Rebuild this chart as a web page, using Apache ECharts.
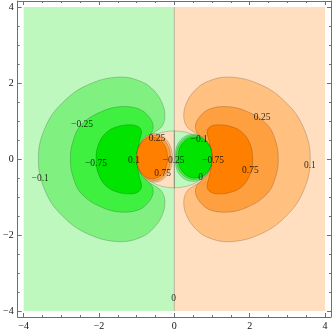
<!DOCTYPE html>
<html>
<head>
<meta charset="utf-8">
<script src="https://cdn.jsdelivr.net/npm/echarts@6/dist/echarts.min.js"></script>
<style>
html, body { margin: 0; padding: 0; background: #fff; }
#main { width: 332px; height: 332px; }
</style>
</head>
<body>
<div id="main"></div>
<script>
// contour plot, values (data units)

var majorTicks = [-4, -2, 0, 2, 4];
var minorTicks = [-3.5, -3, -2.5, -1.5, -1, -0.5, 0.5, 1, 1.5, 2.5, 3, 3.5];

// levels: <-0.75, -0.75..-0.25, -0.25..-0.1, -0.1..0, 0..0.1, 0.1..0.25, 0.25..0.75, >0.75
var levels = [-0.75, -0.25, -0.1, 0, 0.1, 0.25, 0.75];

// background halves (|f| < 0.1)
var leftHalf = [[-4, -4], [0, -4], [0, 4], [-4, 4]];
var rightHalf = [[0, -4], [4, -4], [4, 4], [0, 4]];

// left crescents (negative)
var negOuter01 = [[-1, 0], [-0.9, 0.38], [-0.72, 0.58], [-0.5, 0.72], [-0.33, 0.86], [-0.25, 1.12], [-0.31, 1.44],
  [-0.53, 1.79], [-0.88, 2.04], [-1.45, 2.16], [-2.28, 1.96], [-2.95, 1.5], [-3.42, 0.85], [-3.61, 0],
  [-3.42, -0.86], [-2.95, -1.52], [-2.28, -1.98], [-1.45, -2.18], [-0.88, -2.06], [-0.53, -1.8],
  [-0.31, -1.45], [-0.25, -1.12], [-0.33, -0.86], [-0.5, -0.72], [-0.72, -0.58], [-0.9, -0.38]];
var negOuter025 = [[-1, 0], [-0.9, 0.35], [-0.75, 0.55], [-0.6, 0.7], [-0.56, 0.88], [-0.68, 1.12], [-0.95, 1.32],
  [-1.4, 1.38], [-1.93, 1.25], [-2.45, 0.92], [-2.68, 0.5], [-2.76, 0], [-2.68, -0.5], [-2.45, -0.93],
  [-1.93, -1.27], [-1.4, -1.4], [-0.95, -1.34], [-0.68, -1.13], [-0.56, -0.88], [-0.6, -0.7],
  [-0.75, -0.55], [-0.9, -0.35]];
var negOuter075 = [[-1, 0], [-0.93, 0.45], [-0.87, 0.72], [-0.95, 0.85], [-1.15, 0.9], [-1.45, 0.87], [-1.78, 0.72],
  [-2.0, 0.42], [-2.08, 0], [-2.0, -0.43], [-1.78, -0.74], [-1.45, -0.89], [-1.15, -0.92], [-0.95, -0.86],
  [-0.87, -0.72], [-0.93, -0.45]];

// right crescents (positive)
var posOuter01 = [[1, 0], [0.9, 0.38], [0.72, 0.58], [0.5, 0.72], [0.33, 0.86], [0.25, 1.12], [0.31, 1.44],
  [0.53, 1.79], [0.88, 2.04], [1.45, 2.16], [2.28, 1.96], [2.95, 1.5], [3.42, 0.85], [3.61, 0],
  [3.42, -0.86], [2.95, -1.52], [2.28, -1.98], [1.45, -2.18], [0.88, -2.06], [0.53, -1.8],
  [0.31, -1.45], [0.25, -1.12], [0.33, -0.86], [0.5, -0.72], [0.72, -0.58], [0.9, -0.38]];
var posOuter025 = [[1, 0], [0.9, 0.35], [0.75, 0.55], [0.6, 0.7], [0.56, 0.88], [0.68, 1.12], [0.95, 1.32],
  [1.4, 1.38], [1.93, 1.25], [2.45, 0.92], [2.68, 0.5], [2.76, 0], [2.68, -0.5], [2.45, -0.93],
  [1.93, -1.27], [1.4, -1.4], [0.95, -1.34], [0.68, -1.13], [0.56, -0.88], [0.6, -0.7],
  [0.75, -0.55], [0.9, -0.35]];
var posOuter075 = [[1, 0], [0.93, 0.45], [0.87, 0.72], [0.95, 0.85], [1.15, 0.9], [1.45, 0.87], [1.78, 0.72],
  [2.0, 0.42], [2.08, 0], [2.0, -0.43], [1.78, -0.74], [1.45, -0.89], [1.15, -0.92], [0.95, -0.86],
  [0.87, -0.72], [0.93, -0.45]];

// zero contour ellipse, split at x = 0
var zeroLeft = [[-1, 0], [-0.98, 0.15], [-0.94, 0.25], [-0.87, 0.36], [-0.78, 0.46], [-0.65, 0.56], [-0.5, 0.64],
  [-0.33, 0.7], [-0.15, 0.73], [0, 0.74], [0, -0.76], [-0.15, -0.75], [-0.33, -0.72], [-0.5, -0.66],
  [-0.65, -0.58], [-0.78, -0.48], [-0.87, -0.37], [-0.94, -0.26], [-0.98, -0.15]];
var zeroRight = [[1, 0], [0.98, 0.15], [0.94, 0.25], [0.87, 0.36], [0.78, 0.46], [0.65, 0.56], [0.5, 0.64],
  [0.33, 0.7], [0.15, 0.73], [0, 0.74], [0, -0.76], [0.15, -0.75], [0.33, -0.72], [0.5, -0.66],
  [0.65, -0.58], [0.78, -0.48], [0.87, -0.37], [0.94, -0.26], [0.98, -0.15]];

// inner lobes
var posLobe01 = [[-1, 0.03], [-0.86, 0.48], [-0.53, 0.67], [-0.19, 0.48], [-0.05, 0.03], [-0.19, -0.42], [-0.53, -0.61], [-0.86, -0.42]];
var posLobe025 = [[-1, 0.03], [-0.87, 0.45], [-0.55, 0.63], [-0.23, 0.45], [-0.1, 0.03], [-0.23, -0.39], [-0.55, -0.57], [-0.87, -0.39]];
var posLobe075 = [[-1, 0.03], [-0.88, 0.42], [-0.59, 0.58], [-0.3, 0.42], [-0.18, 0.03], [-0.3, -0.36], [-0.59, -0.52], [-0.88, -0.36]];
var negLobe01 = [[1, 0.04], [0.86, 0.47], [0.5, 0.65], [0.14, 0.47], [0.025, 0.04], [0.14, -0.41], [0.5, -0.59], [0.86, -0.41]];
var negLobe025 = [[1, 0.04], [0.87, 0.45], [0.53, 0.62], [0.18, 0.45], [0.05, 0.04], [0.18, -0.37], [0.53, -0.54], [0.87, -0.37]];
var negLobe075 = [[1, 0.04], [0.88, 0.42], [0.55, 0.58], [0.22, 0.42], [0.1, 0.04], [0.22, -0.34], [0.55, -0.5], [0.88, -0.34]];

// zero line along x = 0
var zeroLine = [[0, -4], [0, 4]];

// contour labels [x, y, text]
var contourLabels = [
  [-3.56, -0.51, '\u22120.1'], [-2.45, 0.92, '\u22120.25'], [-2.08, -0.11, '\u22120.75'],
  [-1.07, -0.05, '0.1'], [-0.46, 0.54, '0.25'], [-0.02, -0.03, '\u22120.25'], [-0.31, -0.38, '0.75'],
  [0.66, 0.51, '\u22120.1'], [1.03, -0.03, '\u22120.75'], [0.7, -0.49, '0'],
  [2.33, 1.08, '0.25'], [2.02, -0.31, '0.75'], [3.6, -0.16, '0.1'], [-0.02, -3.67, '0']
];

// band colours, index 0 = below -0.75 ... 7 = above 0.75
var bandColors = ['#00e400', '#40f040', '#80f080', '#bff8bf', '#ffdfbf', '#ffc080', '#ffa040', '#ff8000'];

// draw order: [outline, band, smooth]
var regions = [
  [leftHalf, 3, false], [rightHalf, 4, false],
  [negOuter01, 2, true], [negOuter025, 1, true], [negOuter075, 0, true],
  [posOuter01, 5, true], [posOuter025, 6, true], [posOuter075, 7, true],
  [zeroLeft, 4, false], [zeroRight, 3, false],
  [posLobe01, 5, true], [posLobe025, 6, true], [posLobe075, 7, true],
  [negLobe01, 2, true], [negLobe025, 1, true], [negLobe075, 0, true]
];

var font = 'Liberation Serif';
var frameColor = '#6e6e6e';

function fmt(v) { return String(v).replace('-', '\u2212'); }

function makeAxis(pos, ticks, len, line, labels) {
  return {
    type: 'value', position: pos, min: -4.16, max: 4.16,
    axisLine: { show: line, onZero: false, lineStyle: { color: frameColor, width: 1 } },
    axisTick: { show: true, inside: true, length: len, customValues: ticks, lineStyle: { color: frameColor, width: 1 } },
    axisLabel: { show: labels, customValues: ticks, formatter: fmt, margin: 4, fontFamily: font, fontSize: 10, color: '#111' },
    splitLine: { show: false }
  };
}

var myChart = echarts.init(document.getElementById('main'));

var option = {
  animation: false,
  grid: { left: 15, right: 1, top: 1, bottom: 15 },
  xAxis: [
    makeAxis('bottom', majorTicks, 4, true, true),
    makeAxis('bottom', minorTicks, 2, false, false),
    makeAxis('top', majorTicks, 4, true, false),
    makeAxis('top', minorTicks, 2, false, false)
  ],
  yAxis: [
    makeAxis('left', majorTicks, 4, true, true),
    makeAxis('left', minorTicks, 2, false, false),
    makeAxis('right', majorTicks, 4, true, false),
    makeAxis('right', minorTicks, 2, false, false)
  ],
  series: [
    {
      type: 'custom',
      silent: true,
      clip: true,
      data: regions.map(function (r, i) { return [0, 0, i]; }),
      renderItem: function (params, api) {
        var r = regions[params.dataIndex];
        var pts = r[0].map(function (p) { return api.coord(p); });
        var lo = [Infinity, Infinity], hi = [-Infinity, -Infinity];
        pts.forEach(function (p) {
          lo[0] = Math.min(lo[0], p[0]); lo[1] = Math.min(lo[1], p[1]);
          hi[0] = Math.max(hi[0], p[0]); hi[1] = Math.max(hi[1], p[1]);
        });
        return {
          type: 'polygon',
          shape: { points: pts, smooth: r[2] ? 0.4 : 0, smoothConstraint: [lo, hi] },
          style: {
            fill: bandColors[r[1]],
            stroke: params.dataIndex < 2 ? 'none' : 'rgba(0,0,0,0.3)',
            lineWidth: 0.6
          }
        };
      }
    },
    {
      type: 'line',
      data: zeroLine,
      symbol: 'none',
      silent: true,
      lineStyle: { color: 'rgba(0,0,0,0.3)', width: 0.8 },
      z: 3
    },
    {
      type: 'scatter',
      symbolSize: 0,
      silent: true,
      data: contourLabels.map(function (l) { return { value: [l[0], l[1]], name: l[2] }; }),
      label: {
        show: true, position: 'inside', formatter: '{b}',
        fontFamily: font, fontSize: 9.5, color: '#000'
      },
      z: 4
    }
  ]
};

myChart.setOption(option);
</script>
</body>
</html>
